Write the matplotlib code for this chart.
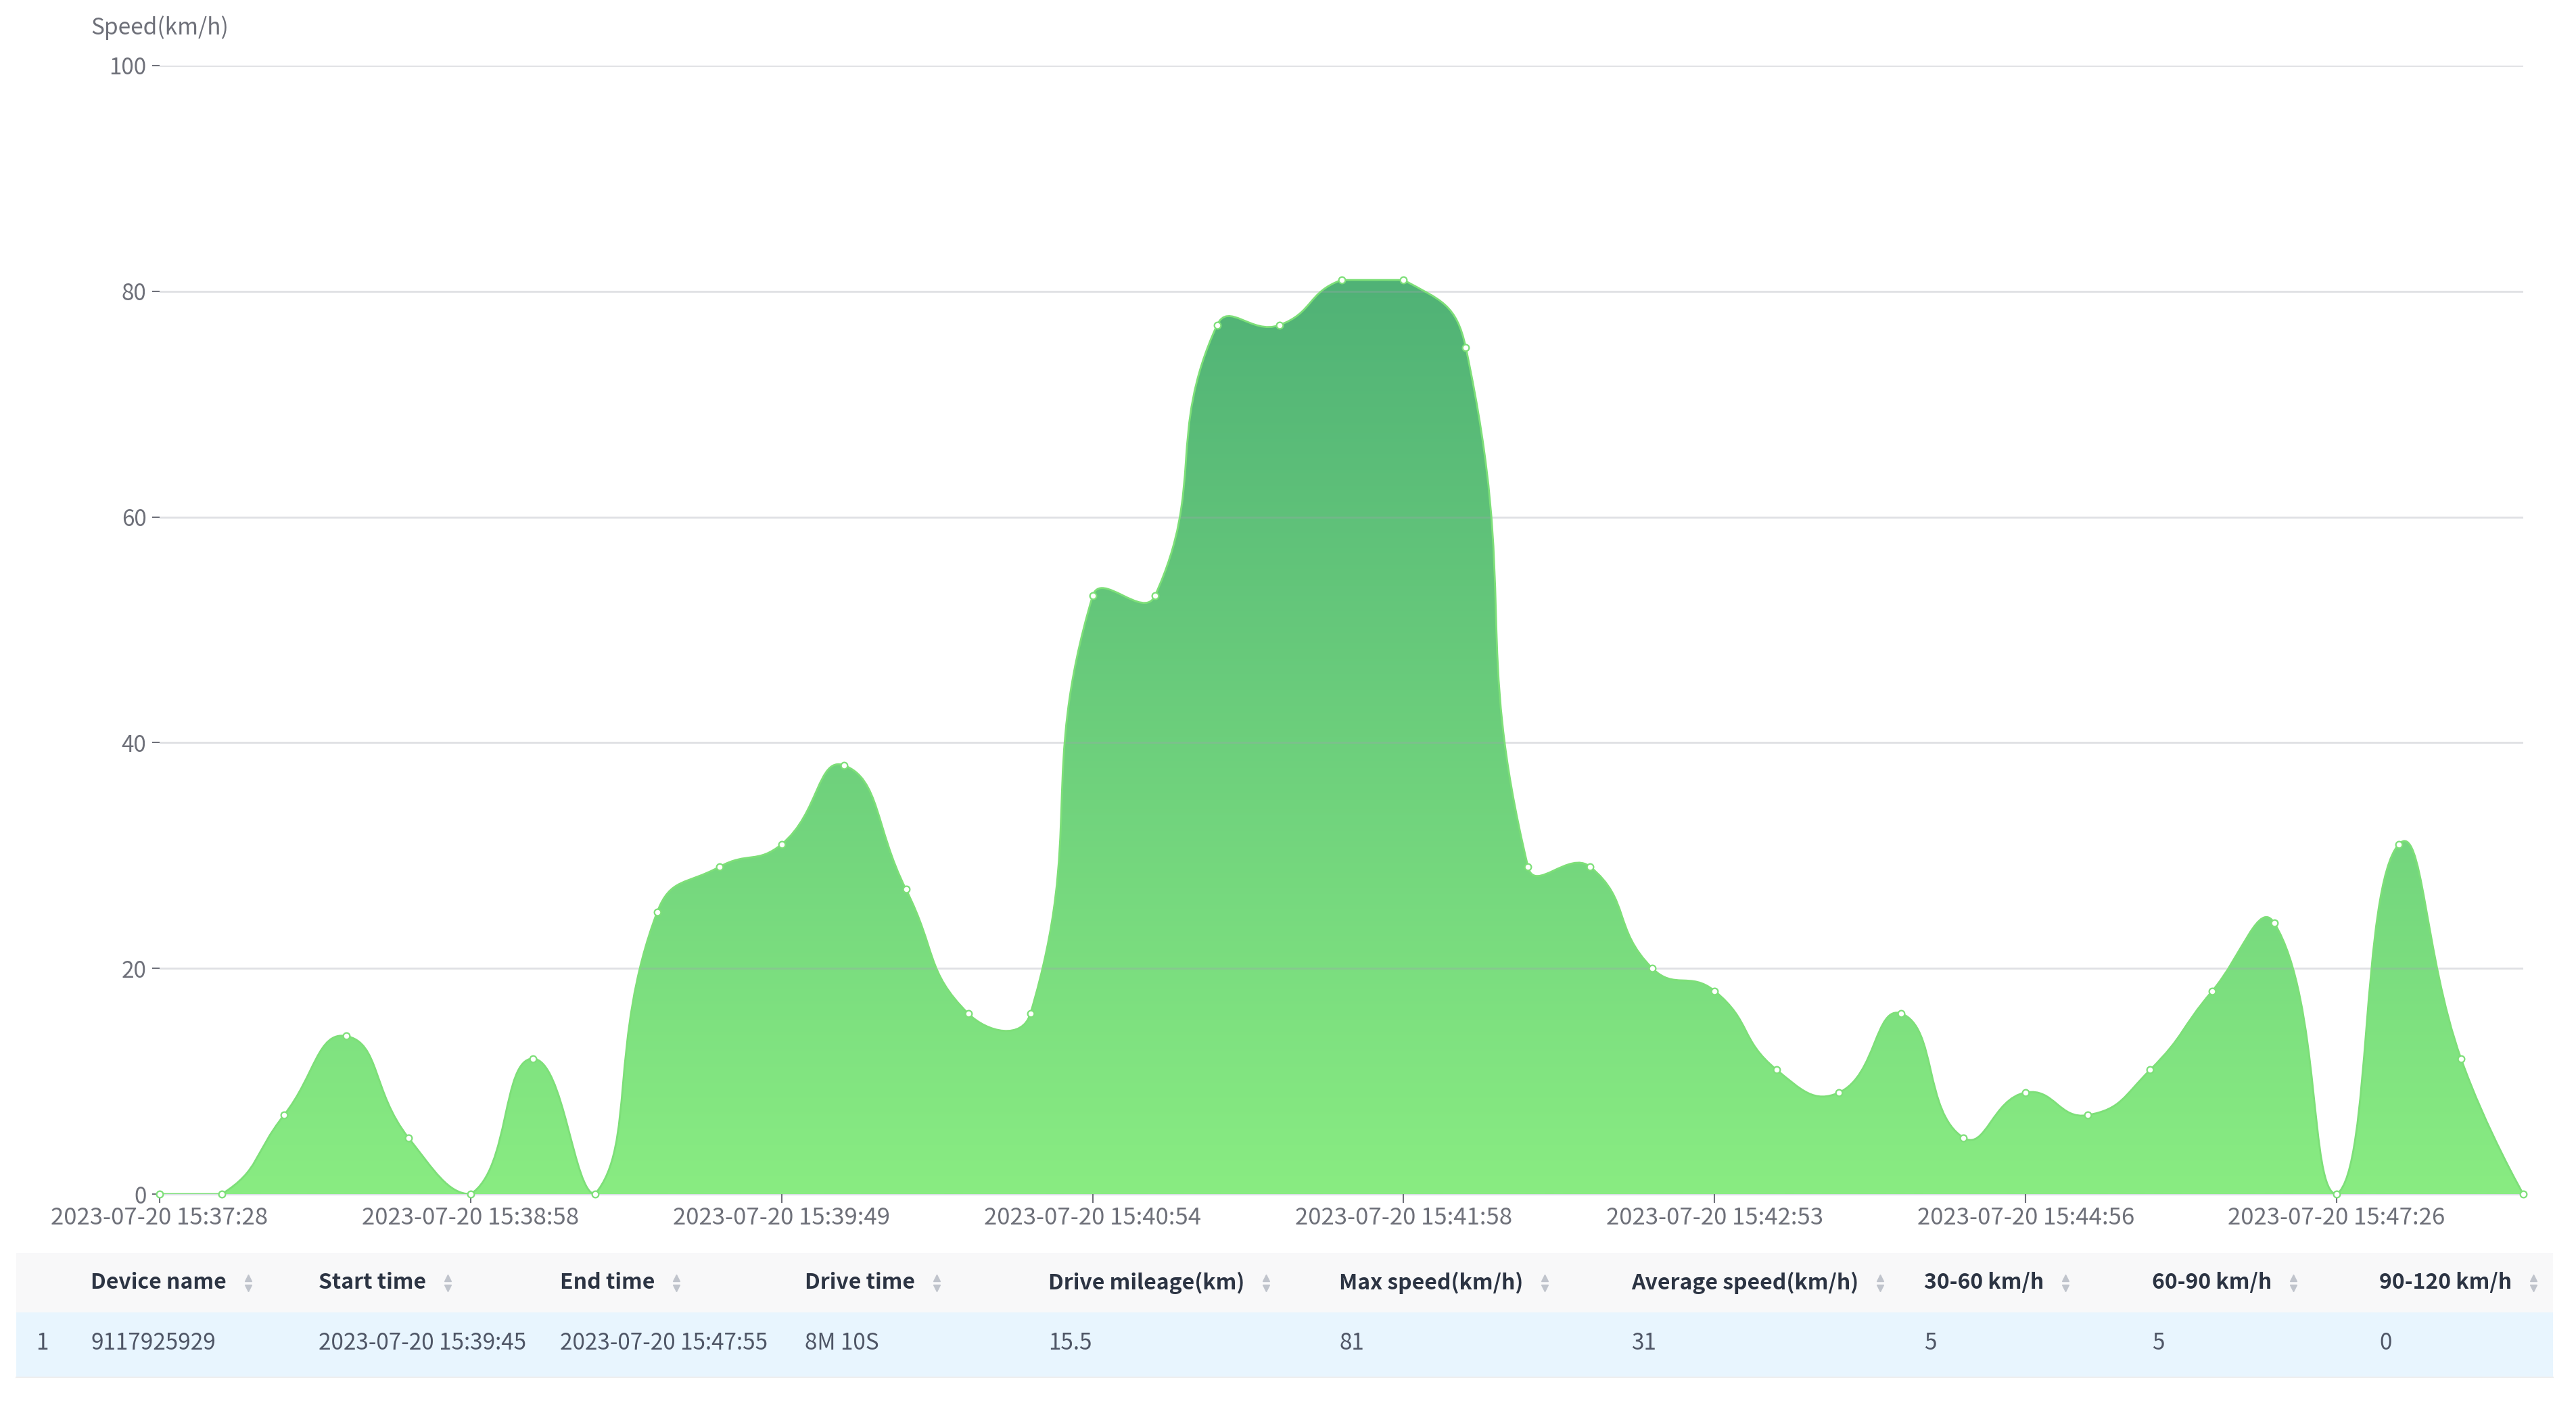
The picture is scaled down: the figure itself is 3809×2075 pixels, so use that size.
import numpy as np
import matplotlib
matplotlib.use('Agg')
import matplotlib.pyplot as plt
from matplotlib.path import Path
from matplotlib.patches import PathPatch, Rectangle
from matplotlib.lines import Line2D

plt.rcParams['font.family'] = ['Noto Sans CJK SC', 'DejaVu Sans']

# --- data ---
speed = [0, 0, 7, 14, 5, 0, 12, 0, 25, 29, 31, 38, 27, 16, 16, 53, 53, 77, 77, 81, 81, 75,
         29, 29, 20, 18, 11, 9, 16, 5, 9, 7, 11, 18, 24, 0, 31, 12, 0]
tick_labels = ['2023-07-20 15:37:28', '2023-07-20 15:38:58', '2023-07-20 15:39:49',
               '2023-07-20 15:40:54', '2023-07-20 15:41:58', '2023-07-20 15:42:53',
               '2023-07-20 15:44:56', '2023-07-20 15:47:26']
y_ticks = [0, 20, 40, 60, 80, 100]

headers = ['Device name', 'Start time', 'End time', 'Drive time', 'Drive mileage(km)',
           'Max speed(km/h)', 'Average speed(km/h)', '30-60 km/h', '60-90 km/h', '90-120 km/h']
row_no = '1'
row = ['9117925929', '2023-07-20 15:39:45', '2023-07-20 15:47:55', '8M 10S', '15.5',
       '81', '31', '5', '5', '0']

# colours
TEXT_GRAY = '#6e7079'
LINE_GREEN = '#7ddf78'
TOP_GREEN = np.array([80, 178, 118]) / 255
BOT_GREEN = np.array([137, 236, 130]) / 255

W, H = 3809, 2075
fig = plt.figure(figsize=(W / 100, H / 100), dpi=100)
ax = fig.add_axes([236 / W, 1 - 1766 / H, (3731 - 236) / W, (1766 - 97) / H])

x = np.arange(len(speed))

# gradient image, clipped to the area later
t = np.linspace(0, 1, 256)[:, None]
grad = BOT_GREEN * (1 - t) + TOP_GREEN * t
img = ax.imshow(grad[:, None, :], extent=[0, len(speed) - 1, 0, max(speed)],
                origin='lower', aspect='auto', zorder=2, interpolation='bilinear')

ax.set_xlim(0, len(speed) - 1)
ax.set_ylim(0, 100)


# echarts-like smooth curve, computed in pixel space
def smooth_curve(px, smooth=0.5):
    lo, hi = px.min(axis=0), px.max(axis=0)
    verts = [px[0]]
    codes = [Path.MOVETO]
    cp0 = px[0].copy()
    n = len(px)
    for i in range(1, n):
        p, prev = px[i], px[i - 1]
        if i < n - 1:
            nxt = px[i + 1]
            v = nxt - prev
            d0 = np.hypot(*(p - prev))
            d1 = np.hypot(*(nxt - p))
            r = d1 / (d0 + d1) if d0 + d1 > 0 else 0.5
            cp1 = p - v * smooth * (1 - r)
            nxt_cp0 = p + v * smooth * r
        else:
            cp1 = p.copy()
            nxt_cp0 = p.copy()
        verts += [np.clip(cp0, lo, hi), np.clip(cp1, lo, hi), p]
        codes += [Path.CURVE4] * 3
        cp0 = nxt_cp0
    return verts, codes


pix = ax.transData.transform(np.column_stack([x, speed]))
verts, codes = smooth_curve(pix)
verts = list(ax.transData.inverted().transform(np.array(verts)))

line_path = Path(verts, codes)
fill_path = Path(verts + [(0, 0), (0, 0)], codes + [Path.LINETO, Path.CLOSEPOLY])

clip = PathPatch(fill_path, facecolor='none', edgecolor='none', transform=ax.transData)
ax.add_patch(clip)
img.set_clip_path(clip)

ax.add_patch(PathPatch(line_path, facecolor='none', edgecolor=LINE_GREEN, lw=2, zorder=4))
ax.plot(x, speed, 'o', ls='none', mfc='white', mec=LINE_GREEN, ms=7, mew=1.6,
        zorder=5, clip_on=False)

# grid lines drawn on top, semi transparent
for yv in y_ticks[1:]:
    ax.axhline(yv, color='#9ea3ad', alpha=0.33, lw=2, zorder=3)

for s in ['top', 'right', 'left']:
    ax.spines[s].set_visible(False)
ax.spines['bottom'].set_color('#dcdfe6')
ax.spines['bottom'].set_linewidth(2)
ax.spines['bottom'].set_zorder(1)

ax.set_yticks(y_ticks)
ax.set_xticks(x[::5])
ax.set_xticklabels(tick_labels)
ax.tick_params(axis='y', length=8, width=1.5, color=TEXT_GRAY, labelcolor=TEXT_GRAY,
               labelsize=24, pad=6)
ax.tick_params(axis='x', length=9, width=1.5, color=TEXT_GRAY, labelcolor=TEXT_GRAY,
               labelsize=25, pad=4)

fig.text(236 / W, 1 - 41 / H, 'Speed(km/h)', ha='center', va='center',
         fontsize=24, color=TEXT_GRAY)

# --- table below the chart ---
fig.add_artist(Rectangle((24 / W, 1 - 1941 / H), (3775 - 24) / W, 88 / H,
                         transform=fig.transFigure, facecolor='#f8f8f9', edgecolor='none'))
fig.add_artist(Rectangle((24 / W, 1 - 2036 / H), (3775 - 24) / W, 95 / H,
                         transform=fig.transFigure, facecolor='#e8f5fe', edgecolor='none'))
fig.add_artist(Line2D([24 / W, 3775 / W], [1 - 2037 / H] * 2, transform=fig.transFigure,
                      color='#eeeeee', lw=1.5))

col_x = [134, 471, 828, 1190, 1550, 1980, 2412, 2845, 3182, 3518]
head_y = 1 - 1897 / H
row_y = 1 - 1987 / H

renderer = fig.canvas.get_renderer()
for cx, h, val in zip(col_x, headers, row):
    ht = fig.text(cx / W, head_y, h, ha='left', va='center', fontsize=23,
                  fontweight='bold', color='#2c3443')
    fig.text(cx / W, row_y, val, ha='left', va='center', fontsize=24, color='#4f5666')
    ext = ht.get_window_extent(renderer)
    ix = (ext.x1 + 32) / W
    fig.add_artist(Line2D([ix], [head_y + 7 / H], transform=fig.transFigure, marker='^',
                          ms=7, color='#c0c4cc', ls='none'))
    fig.add_artist(Line2D([ix], [head_y - 8 / H], transform=fig.transFigure, marker='v',
                          ms=7, color='#c0c4cc', ls='none'))

fig.text(53 / W, row_y, row_no, ha='left', va='center', fontsize=24, color='#4f5666')

fig.savefig('out.png', dpi=100)
